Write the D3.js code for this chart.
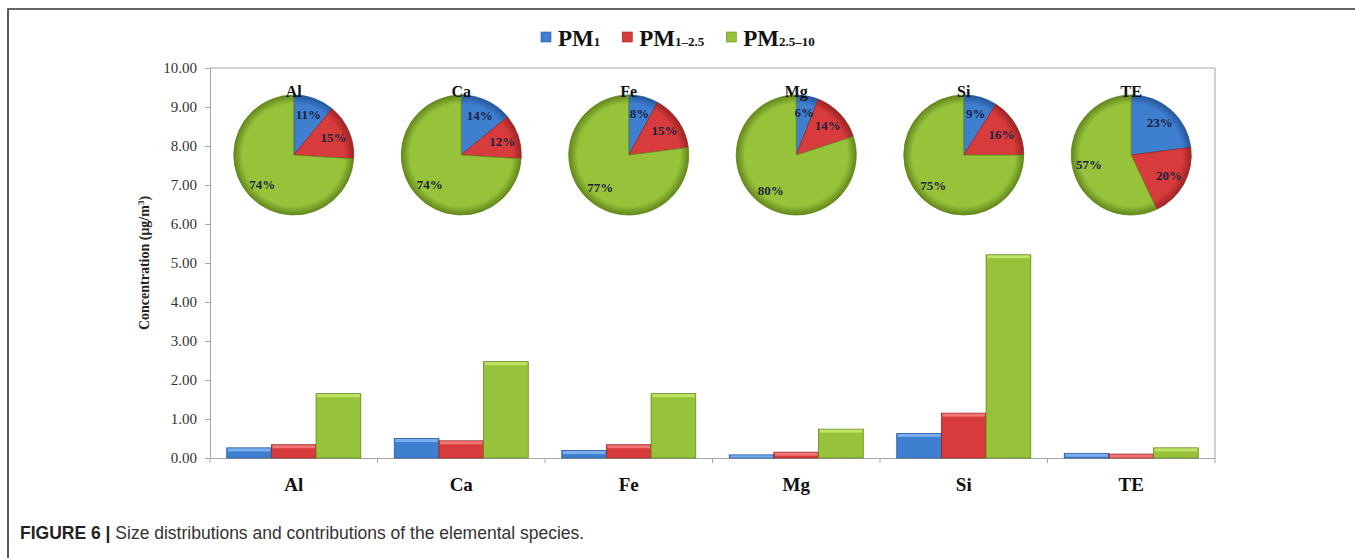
<!DOCTYPE html>
<html><head><meta charset="utf-8">
<script src="https://cdn.jsdelivr.net/npm/d3@7/dist/d3.min.js"></script>
<style>
html,body{margin:0;padding:0;background:#fff;}
svg{display:block;}
</style></head>
<body>
<svg id="chart" width="1355" height="558"></svg>
<script>
// ---- data ----
const categories = ["Al", "Ca", "Fe", "Mg", "Si", "TE"];
const seriesNames = ["PM1", "PM1-2.5", "PM2.5-10"];
const pm1 = [0.26, 0.50, 0.19, 0.08, 0.63, 0.12];
const pm1_25 = [0.34, 0.44, 0.34, 0.15, 1.15, 0.10];
const pm25_10 = [1.65, 2.47, 1.65, 0.74, 5.21, 0.26];
const pctPM1 = [11, 14, 8, 6, 9, 23];
const pctPM1_25 = [15, 12, 15, 14, 16, 20];
const pctPM25_10 = [74, 74, 77, 80, 75, 57];
const yTicks = [0, 1, 2, 3, 4, 5, 6, 7, 8, 9, 10];

const svg = d3.select("#chart");
const W = 1355, H = 558;
const plot = {left: 210, right: 1215, top: 68, bottom: 458};
const colors = [
  {base: "#3f7fd0", light: "#7aaeee", dark: "#24579c"},
  {base: "#d73b3b", light: "#f27676", dark: "#9c2424"},
  {base: "#97c33a", light: "#bde466", dark: "#62861c"}
];
const serif = "'Liberation Serif','Times New Roman',serif";
const sans = "'Liberation Sans',Arial,sans-serif";

// gradients
const defs = svg.append("defs");
colors.forEach((c, i) => {
  const g = defs.append("linearGradient").attr("id", "bar" + i)
    .attr("x1", 0).attr("x2", 1).attr("y1", 0).attr("y2", 0);
  g.append("stop").attr("offset", "0").attr("stop-color", c.base);
  g.append("stop").attr("offset", "0.5").attr("stop-color", c.base);
  g.append("stop").attr("offset", "1").attr("stop-color", c.base);
  const r = defs.append("radialGradient").attr("id", "pie" + i)
    .attr("gradientUnits", "userSpaceOnUse").attr("cx", 0).attr("cy", 0).attr("r", 60);
  r.append("stop").attr("offset", "0").attr("stop-color", c.base);
  r.append("stop").attr("offset", "0.85").attr("stop-color", c.base);
  r.append("stop").attr("offset", "1").attr("stop-color", c.dark);
});

// outer figure frame
svg.append("path").attr("d", `M8,${H} V9 H${W}`).attr("fill", "none")
  .attr("stroke", "#333").attr("stroke-width", 1.6);

// scales
const x0 = d3.scaleBand().domain(categories).range([plot.left, plot.right]).padding(0);
const x1 = d3.scaleBand().domain(seriesNames)
  .range([x0.bandwidth() * 0.1, x0.bandwidth() * 0.9]).padding(0);
const y = d3.scaleLinear().domain([0, 10]).range([plot.bottom, plot.top]);

// plot border (top & right)
svg.append("path")
  .attr("d", `M${plot.left},${plot.top} H${plot.right} V${plot.bottom}`)
  .attr("fill", "none").attr("stroke", "#a6a6a6").attr("stroke-width", 1);

// y axis
const yAxis = svg.append("g").attr("transform", `translate(${plot.left},0)`)
  .call(d3.axisLeft(y).tickValues(yTicks).tickFormat(d3.format(".2f")).tickSize(5).tickPadding(8));
yAxis.select(".domain").attr("stroke", "#a6a6a6");
yAxis.selectAll(".tick line").attr("stroke", "#a6a6a6");
yAxis.selectAll(".tick text").attr("font-family", serif).attr("font-size", 15).attr("fill", "#333");

// x axis
const xAxis = svg.append("g").attr("transform", `translate(0,${plot.bottom})`)
  .call(d3.axisBottom(x0).tickSize(0).tickPadding(20));
xAxis.select(".domain").attr("stroke", "#a6a6a6");
xAxis.selectAll(".tick text").attr("font-family", serif).attr("font-size", 19)
  .attr("font-weight", "bold").attr("fill", "#111");
// category boundary ticks
svg.append("g").selectAll("line").data(d3.range(categories.length + 1)).join("line")
  .attr("x1", i => plot.left + i * x0.bandwidth()).attr("x2", i => plot.left + i * x0.bandwidth())
  .attr("y1", plot.bottom).attr("y2", plot.bottom + 5).attr("stroke", "#a6a6a6");

// y axis title
const yt = svg.append("text").attr("transform", `translate(149,${(plot.top + plot.bottom) / 2}) rotate(-90)`)
  .attr("text-anchor", "middle").attr("font-family", serif).attr("font-weight", "bold")
  .attr("font-size", 14).attr("fill", "#222");
yt.append("tspan").text("Concentration (μg/m");
yt.append("tspan").attr("dy", -5).attr("font-size", 9).text("3");
yt.append("tspan").attr("dy", 5).text(")");

// bars
const seriesVals = [pm1, pm1_25, pm25_10];
const bars = [];
categories.forEach((c, ci) => seriesVals.forEach((vals, si) => bars.push({c, si, v: vals[ci]})));
const barG = svg.append("g");
barG.selectAll("rect.bar").data(bars).join("rect").attr("class", "bar")
  .attr("x", d => x0(d.c) + x1(seriesNames[d.si]))
  .attr("y", d => y(d.v))
  .attr("width", x1.bandwidth())
  .attr("height", d => y(0) - y(d.v))
  .attr("fill", d => `url(#bar${d.si})`)
  .attr("stroke", d => colors[d.si].dark).attr("stroke-width", 0.8);
// bevel highlight on top edge
barG.selectAll("rect.hl").data(bars).join("rect").attr("class", "hl")
  .attr("x", d => x0(d.c) + x1(seriesNames[d.si]) + 1)
  .attr("y", d => y(d.v) + 0.5)
  .attr("width", x1.bandwidth() - 2)
  .attr("height", d => Math.min(3, Math.max(0, y(0) - y(d.v) - 1)))
  .attr("fill", d => colors[d.si].light);

// pies
const pctSeries = [pctPM1, pctPM1_25, pctPM25_10];
const R = 60, pieCy = 155;
const pie = d3.pie().sort(null).value(d => d.p);
const arc = d3.arc().innerRadius(0).outerRadius(R);
const labelArc = d3.arc().innerRadius(R * 0.72).outerRadius(R * 0.72);
categories.forEach((c, ci) => {
  const data = pctSeries.map((s, si) => ({si, p: s[ci]}));
  const g = svg.append("g").attr("transform", `translate(${x0(c) + x0.bandwidth() / 2},${pieCy})`);
  const arcs = pie(data);
  g.selectAll("path").data(arcs).join("path")
    .attr("d", arc)
    .attr("fill", d => `url(#pie${d.data.si})`)
    .attr("stroke", d => colors[d.data.si].dark).attr("stroke-width", 0.8);
  g.selectAll("text.pct").data(arcs).join("text").attr("class", "pct")
    .attr("transform", d => `translate(${labelArc.centroid(d)})`)
    .attr("text-anchor", "middle").attr("dy", "0.35em")
    .attr("font-family", serif).attr("font-weight", "bold").attr("font-size", 13)
    .attr("fill", "#1c2440")
    .text(d => d.data.p + "%");
  g.append("text").attr("x", 0).attr("y", -R + 2).attr("text-anchor", "middle")
    .attr("font-family", serif).attr("font-weight", "bold").attr("font-size", 16)
    .attr("fill", "#111").text(c);
});

// legend
const legendItems = [
  {main: "PM", sub: "1"},
  {main: "PM", sub: "1–2.5"},
  {main: "PM", sub: "2.5–10"}
];
let lx = 541;
legendItems.forEach((it, i) => {
  const g = svg.append("g").attr("transform", `translate(${lx},0)`);
  g.append("rect").attr("x", 0).attr("y", 32).attr("width", 10).attr("height", 10)
    .attr("fill", `url(#bar${i})`).attr("stroke", colors[i].dark).attr("stroke-width", 0.6);
  const t = g.append("text").attr("x", 17).attr("y", 46)
    .attr("font-family", serif).attr("font-weight", "bold").attr("font-size", 23).attr("fill", "#111");
  t.append("tspan").text(it.main);
  t.append("tspan").attr("font-size", 13).text(it.sub);
  lx += 17 + t.node().getComputedTextLength() + 22;
});

// caption
const cap = svg.append("text").attr("x", 20).attr("y", 539)
  .attr("font-family", sans).attr("font-size", 17.5).attr("fill", "#333");
cap.append("tspan").attr("font-weight", "bold").attr("fill", "#222").text("FIGURE 6 | ");
cap.append("tspan").text("Size distributions and contributions of the elemental species.");
</script>
</body></html>
